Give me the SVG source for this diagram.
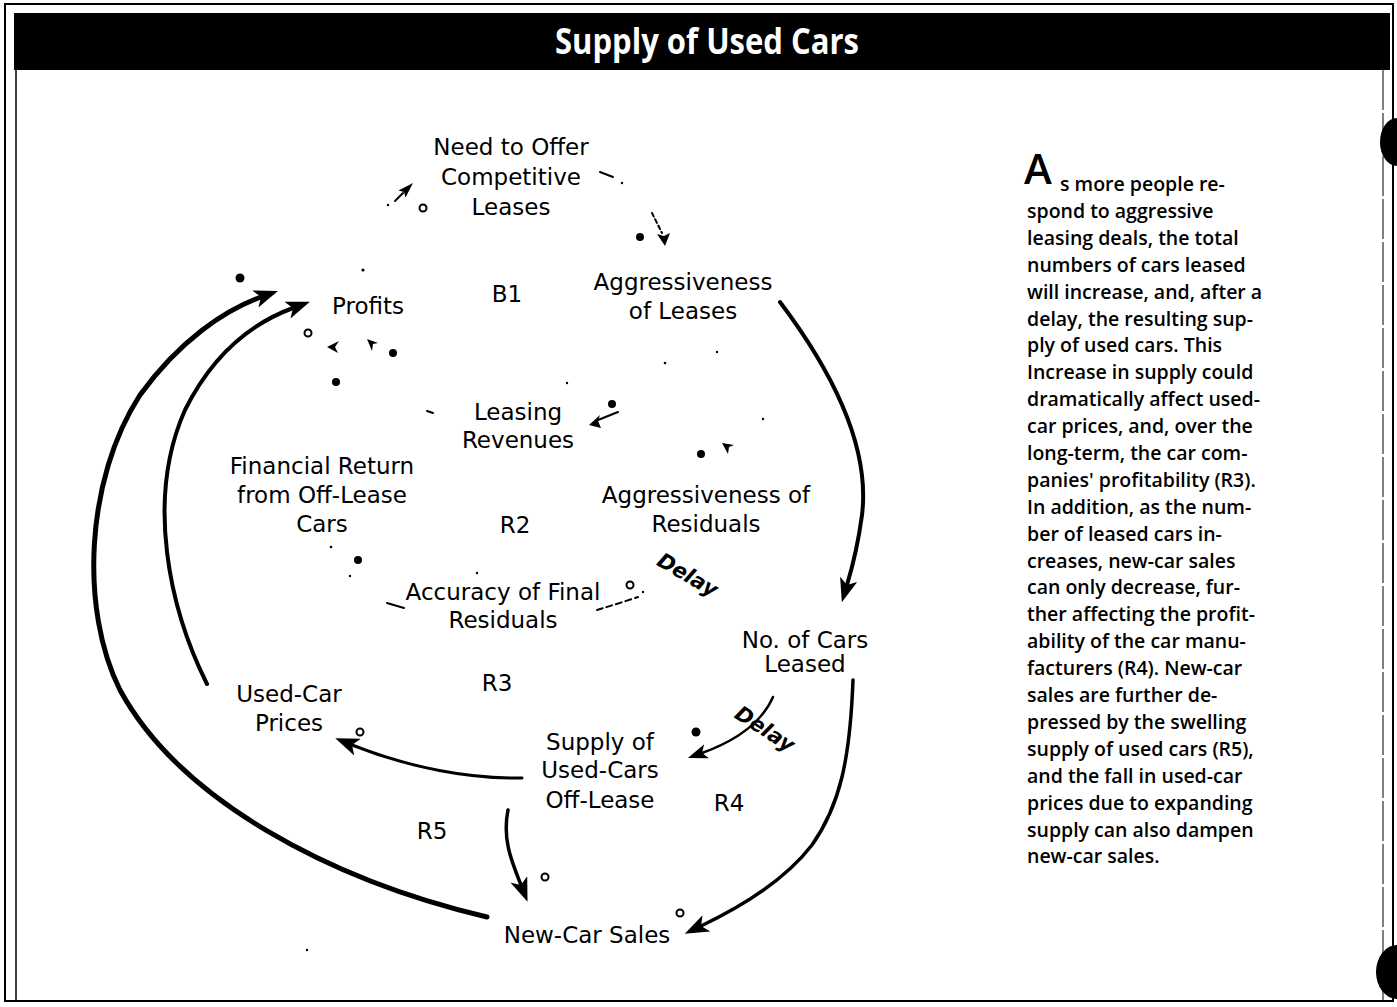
<svg xmlns="http://www.w3.org/2000/svg" width="1397" height="1007" viewBox="0 0 1397 1007">
<style>
.lbl{font-family:"DejaVu Sans","Liberation Sans",sans-serif;font-size:23px;fill:#000;text-anchor:middle}
.delay{font-family:"DejaVu Sans","Liberation Sans",sans-serif;font-size:21px;font-weight:bold;font-style:italic;fill:#000;text-anchor:middle}
.body{font-family:"Open Sans","Liberation Sans",sans-serif;font-size:19.5px;font-weight:600;fill:#000}
.conn{fill:none;stroke:#000;stroke-linecap:round}
.pos{fill:#000}
.neg{fill:#fff;stroke:#000;stroke-width:2}
.frag{fill:none;stroke:#000;stroke-width:2;stroke-linecap:round}
.speck{fill:#000}
</style>
<defs>
<marker id="ahL" viewBox="0 0 24 18" refX="6" refY="9" markerWidth="24" markerHeight="18" orient="auto" markerUnits="userSpaceOnUse"><path d="M0,0 L24,9 L0,18 L6,9 Z" fill="#000"/></marker>
<marker id="ahS" viewBox="0 0 20 15" refX="5" refY="7.5" markerWidth="20" markerHeight="15" orient="auto" markerUnits="userSpaceOnUse"><path d="M0,0 L20,7.5 L0,15 L5,7.5 Z" fill="#000"/></marker>
</defs>

<!-- frame -->
<g id="frame">
<rect x="5" y="4" width="1388" height="997" fill="none" stroke="#000" stroke-width="2"/>
<line x1="16" y1="70" x2="16" y2="1001" stroke="#000" stroke-width="1.5"/>
<line x1="1383" y1="70" x2="1383" y2="1001" stroke="#000" stroke-width="1" stroke-dasharray="40 3"/>
<rect x="14" y="13" width="1376" height="57" fill="#000"/>
<text x="555" y="54" textLength="304" lengthAdjust="spacingAndGlyphs" style="font-family:'Open Sans','Liberation Sans',sans-serif;font-size:35px;font-weight:bold;fill:#fff">Supply of Used Cars</text>
<ellipse cx="1397" cy="142" rx="17" ry="24" fill="#000"/>
<ellipse cx="1397" cy="972" rx="21" ry="27" fill="#000"/>
</g>

<!-- connectors -->
<g id="connectors">
<path class="conn" stroke-width="5" d="M487 917 C330 880 180 800 120 690 C80 610 85 480 140 395 C180 340 225 310 261 297" marker-end="url(#ahL)"/>
<path class="conn" stroke-width="4" d="M207 684 C170 610 145 500 185 410 C215 350 255 322 293 308" marker-end="url(#ahL)"/>
<path class="conn" stroke-width="4" d="M780 302 C835 375 870 450 862 515 C858 545 853 565 847 585" marker-end="url(#ahL)"/>
<path class="conn" stroke-width="3.5" d="M853 680 C850 760 840 805 812 845 C785 880 745 905 701 926" marker-end="url(#ahL)"/>
<path class="conn" stroke-width="3" d="M522 778 C470 779 410 768 352 745" marker-end="url(#ahL)"/>
<path class="conn" stroke-width="3.5" d="M508 810 C502 840 512 862 521 885" marker-end="url(#ahL)"/>
<path class="conn" stroke-width="2.5" d="M773 697 C762 722 738 740 702 753" marker-end="url(#ahS)"/>

<!-- small arrowheads of faint links -->
<line class="frag" x1="395" y1="201" x2="403" y2="193"/>
<polygon points="413,183 405.5,197.5 404,192 398.5,190.5" fill="#000"/>
<line class="frag" stroke-width="1.5" stroke-dasharray="4 3" x1="652" y1="213" x2="662" y2="233"/>
<polygon points="665,246 670,233 664,236 657,234" fill="#000"/>
<polygon points="327,347 339,341 335,347 338,353" fill="#000"/>
<polygon points="367,339 378,343 373,344 372,351" fill="#000"/>
<line class="frag" stroke-width="2.5" x1="598" y1="420" x2="618" y2="412"/>
<polygon points="589,425 600,415 598,421 601,428" fill="#000"/>
<polygon points="722,443 734,445 729,447 728,454" fill="#000"/>
<line class="frag" x1="600" y1="172" x2="613" y2="177"/>
<line class="frag" stroke-width="2.5" x1="387" y1="603" x2="404" y2="608"/>
<path class="frag" stroke-width="1.8" stroke-dasharray="6 4" d="M597 610 Q617 604 638 597"/>
<line class="frag" x1="427" y1="411" x2="433" y2="413"/>
<circle class="speck" cx="622" cy="183" r="1.2"/>
<circle class="speck" cx="388" cy="205" r="1.2"/>
<circle class="speck" cx="363" cy="270" r="1.6"/>
<circle class="speck" cx="567" cy="383" r="1.2"/>
<circle class="speck" cx="717" cy="352" r="1.2"/>
<circle class="speck" cx="665" cy="363" r="1.3"/>
<circle class="speck" cx="763" cy="419" r="1.2"/>
<circle class="speck" cx="331" cy="547" r="1.3"/>
<circle class="speck" cx="350" cy="576" r="1.2"/>
<circle class="speck" cx="477" cy="573" r="1.2"/>
<circle class="speck" cx="643" cy="592" r="1.2"/>
<circle class="speck" cx="307" cy="950" r="1.2"/>

<!-- polarity marks -->
<circle class="pos" cx="640" cy="237" r="4"/>
<circle class="pos" cx="240" cy="278" r="4.5"/>
<circle class="pos" cx="336" cy="382" r="4"/>
<circle class="pos" cx="393" cy="353" r="4"/>
<circle class="pos" cx="612" cy="404" r="4"/>
<circle class="pos" cx="701" cy="454" r="4"/>
<circle class="pos" cx="358" cy="560" r="4"/>
<circle class="pos" cx="696" cy="732" r="4.5"/>
<circle class="neg" cx="423" cy="208" r="3.5"/>
<circle class="neg" cx="308" cy="333" r="3.5"/>
<circle class="neg" cx="630" cy="585" r="3.5"/>
<circle class="neg" cx="360" cy="732" r="3.5"/>
<circle class="neg" cx="545" cy="877" r="3.5"/>
<circle class="neg" cx="680" cy="913" r="3.5"/>

<text class="delay" transform="translate(684 581) rotate(30)">Delay</text>
<text class="delay" transform="translate(761 735) rotate(33)">Delay</text>
</g>

<!-- nodes -->
<g id="need-to-offer"><text class="lbl" x="511" y="155">Need to Offer</text><text class="lbl" x="511" y="185">Competitive</text><text class="lbl" x="511" y="215">Leases</text></g>
<g id="profits"><text class="lbl" x="368" y="314">Profits</text></g>
<g id="aggr-leases"><text class="lbl" x="683" y="290">Aggressiveness</text><text class="lbl" x="683" y="319">of Leases</text></g>
<g id="leasing-revenues"><text class="lbl" x="518" y="420">Leasing</text><text class="lbl" x="518" y="448">Revenues</text></g>
<g id="financial-return"><text class="lbl" x="322" y="474">Financial Return</text><text class="lbl" x="322" y="503">from Off-Lease</text><text class="lbl" x="322" y="532">Cars</text></g>
<g id="aggr-residuals"><text class="lbl" x="706" y="503">Aggressiveness of</text><text class="lbl" x="706" y="532">Residuals</text></g>
<g id="accuracy"><text class="lbl" x="503" y="600">Accuracy of Final</text><text class="lbl" x="503" y="628">Residuals</text></g>
<g id="cars-leased"><text class="lbl" x="805" y="648">No. of Cars</text><text class="lbl" x="805" y="672">Leased</text></g>
<g id="used-car-prices"><text class="lbl" x="289" y="702">Used-Car</text><text class="lbl" x="289" y="731">Prices</text></g>
<g id="supply"><text class="lbl" x="600" y="750">Supply of</text><text class="lbl" x="600" y="778">Used-Cars</text><text class="lbl" x="600" y="808">Off-Lease</text></g>
<g id="new-car-sales"><text class="lbl" x="587" y="943">New-Car Sales</text></g>
<g id="loops">
<text class="lbl" x="507" y="302">B1</text>
<text class="lbl" x="515" y="533">R2</text>
<text class="lbl" x="497" y="691">R3</text>
<text class="lbl" x="729" y="811">R4</text>
<text class="lbl" x="432" y="839">R5</text>
</g>

<!-- side text -->
<g id="side-text">
<text x="1024" y="184" style="font-family:'Open Sans','Liberation Sans',sans-serif;font-size:42px;font-weight:600">A</text>
<text class="body" x="1060" y="191">s more people re-</text>
<text class="body" x="1027" y="218">spond to aggressive</text>
<text class="body" x="1027" y="245">leasing deals, the total</text>
<text class="body" x="1027" y="272">numbers of cars leased</text>
<text class="body" x="1027" y="299">will increase, and, after a</text>
<text class="body" x="1027" y="326">delay, the resulting sup-</text>
<text class="body" x="1027" y="352">ply of used cars.  This</text>
<text class="body" x="1027" y="379">Increase in supply could</text>
<text class="body" x="1027" y="406">dramatically affect used-</text>
<text class="body" x="1027" y="433">car prices, and, over the</text>
<text class="body" x="1027" y="460">long-term, the car com-</text>
<text class="body" x="1027" y="487">panies' profitability (R3).</text>
<text class="body" x="1027" y="514">In addition, as the num-</text>
<text class="body" x="1027" y="541">ber of leased cars in-</text>
<text class="body" x="1027" y="568">creases, new-car sales</text>
<text class="body" x="1027" y="594">can only decrease, fur-</text>
<text class="body" x="1027" y="621">ther affecting the profit-</text>
<text class="body" x="1027" y="648">ability of the car manu-</text>
<text class="body" x="1027" y="675">facturers (R4).  New-car</text>
<text class="body" x="1027" y="702">sales are further de-</text>
<text class="body" x="1027" y="729">pressed by the swelling</text>
<text class="body" x="1027" y="756">supply of used cars (R5),</text>
<text class="body" x="1027" y="783">and the fall in used-car</text>
<text class="body" x="1027" y="810">prices due to expanding</text>
<text class="body" x="1027" y="837">supply can also dampen</text>
<text class="body" x="1027" y="863">new-car sales.</text>
</g>
</svg>
